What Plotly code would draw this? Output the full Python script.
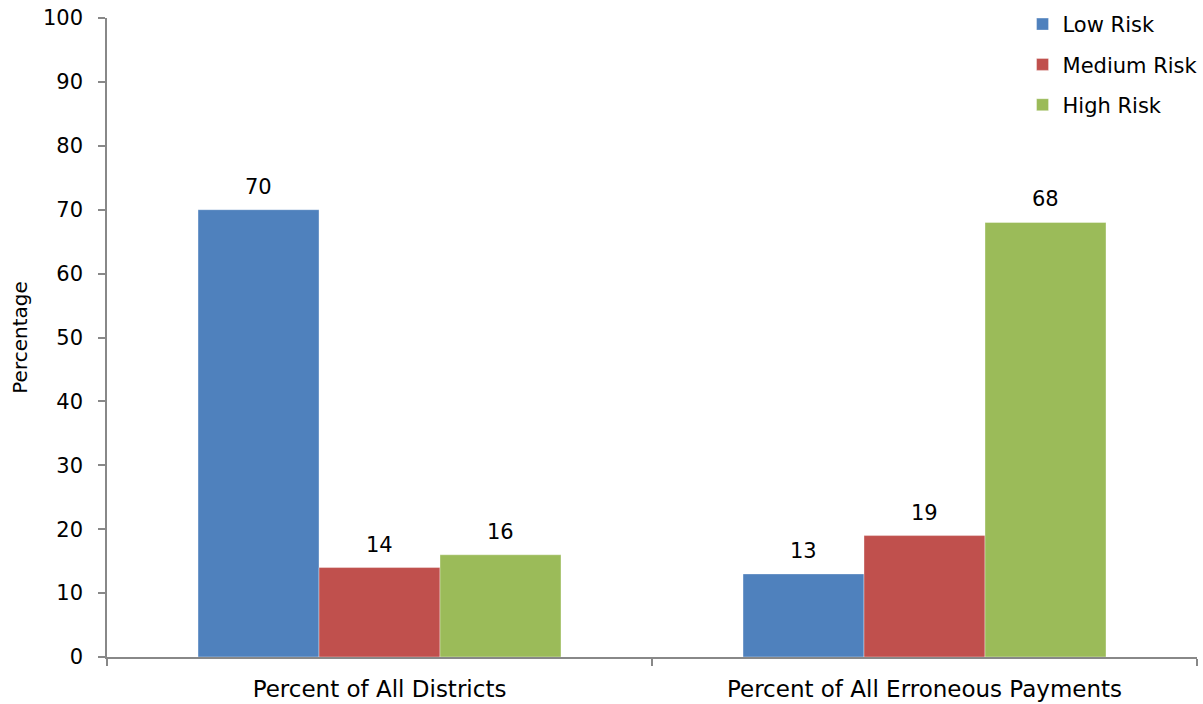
import plotly.graph_objects as go

# Share of districts and of erroneous payments by risk tier (percent)
categories = ["Percent of All Districts", "Percent of All Erroneous Payments"]
series_names = ["Low Risk", "Medium Risk", "High Risk"]
low_risk = [70, 13]
medium_risk = [14, 19]
high_risk = [16, 68]
series_values = [low_risk, medium_risk, high_risk]
colors = ["#4F81BD", "#C0504D", "#9BBB59"]

y_ticks = list(range(0, 101, 10))

FONT = "DejaVu Sans"
W, H = 1203, 704
margin = dict(l=107, r=6, t=18, b=47, autoexpand=False)
bargap = 0.334

fig = go.Figure()
for i, (name, vals, col) in enumerate(zip(series_names, series_values, colors)):
    fig.add_trace(go.Bar(
        name=name, x=categories, y=vals,
        marker=dict(color=col, line=dict(width=0.6, color="rgba(255,255,255,0.6)")),
        legendgroup=name,
        hoverinfo="skip",
    ))

# Value labels above each bar, horizontally offset to their bar in the group
plot_w = W - margin["l"] - margin["r"]
bar_px = plot_w / len(categories) * (1 - bargap) / len(series_names)
for i, vals in enumerate(series_values):
    shift = (i - (len(series_names) - 1) / 2) * bar_px
    for cat, v in zip(categories, vals):
        fig.add_annotation(
            x=cat, y=v, xref="x", yref="y", text=str(v), showarrow=False,
            xshift=shift, yshift=9, yanchor="bottom",
            font=dict(family=FONT, size=21, color="#000000"),
        )

fig.update_layout(
    width=W, height=H,
    margin=margin,
    paper_bgcolor="white", plot_bgcolor="white",
    barmode="group", bargap=bargap, bargroupgap=0,
    font=dict(family=FONT, size=21, color="#000000"),
    showlegend=True,
    legend=dict(
        x=1.006, xanchor="right", y=1.022, yanchor="top",
        font=dict(family=FONT, size=21, color="#000000"),
        itemwidth=30, tracegroupgap=10,
        bgcolor="rgba(0,0,0,0)",
    ),
    xaxis=dict(
        type="category", showline=True, linecolor="#888888", linewidth=1.5,
        ticks="outside", tickson="boundaries", ticklen=7, tickcolor="#888888",
        tickwidth=1.5, showgrid=False, zeroline=False,
        tickfont=dict(family=FONT, size=23), ticklabelstandoff=11,
    ),
    yaxis=dict(
        range=[0, 100], tickvals=y_ticks, showline=True, linecolor="#888888",
        linewidth=1.5, ticks="outside", ticklen=7, tickcolor="#888888",
        tickwidth=1.5, showgrid=False, zeroline=False,
        tickfont=dict(family=FONT, size=21), ticklabelstandoff=11,
        title=dict(text="Percentage", font=dict(family=FONT, size=20), standoff=10),
    ),
)

fig.write_html("out.html")
